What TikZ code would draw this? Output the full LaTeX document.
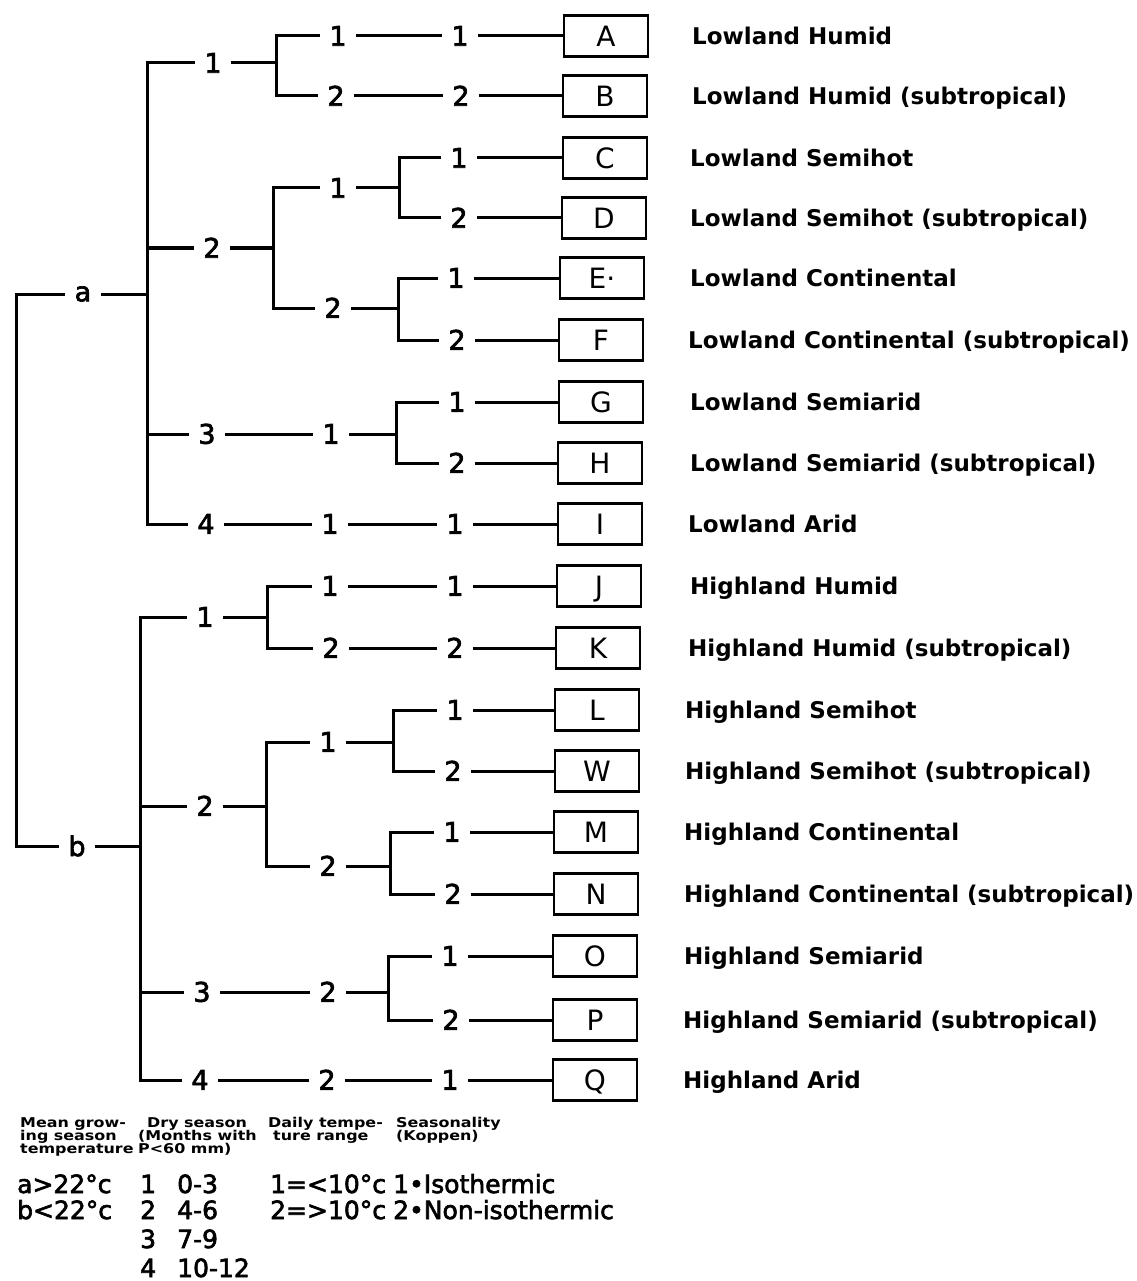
\documentclass[tikz,border=0pt]{standalone}
\usepackage{fontspec}
\setmainfont{DejaVu Sans}
\newfontfamily\hdr{DejaVu Sans}[FakeStretch=1.18]
\newfontfamily\med{DejaVu Sans}[FakeBold=2.5]
\begin{document}
\begin{tikzpicture}[x=1pt,y=-1pt,
  ln/.style={line width=3pt},
  dg/.style={inner sep=0pt, minimum width=36pt, text height=19.5pt, text depth=0pt, font=\med\fontsize{27}{29}\selectfont},
  rt/.style={inner sep=0pt, minimum width=36pt, font=\med\fontsize{27}{29}\selectfont},
  leaf/.style={draw, line width=2.6pt, minimum width=84pt, minimum height=41pt, inner sep=0pt, text height=20.4pt, text depth=0pt, font=\fontsize{28}{30}\selectfont},
  lab/.style={anchor=base west, inner sep=0pt, font=\bfseries\fontsize{23}{25}\selectfont},
  hd/.style={anchor=base west, inner sep=0pt, font=\hdr\bfseries\fontsize{13.5}{13}\selectfont},
  lv/.style={anchor=base west, inner sep=0pt, font=\med\fontsize{25}{27}\selectfont},
]
\useasboundingbox (0,0) rectangle (1136,1281);

% root
\node[rt] (a) at (83,294) {a};
\node[rt] (b) at (77,846) {b};
\coordinate (rv) at (16,0);
\coordinate (av) at (147,0);
\coordinate (bv) at (140,0);

% level 2
\node[dg] (a1) at (213,63) {1};
\node[dg] (a2) at (212,248) {2};
\node[dg] (a3) at (207,434) {3};
\node[dg] (a4) at (206,524) {4};
\node[dg] (b1) at (205,617) {1};
\node[dg] (b2) at (205,806) {2};
\node[dg] (b3) at (202,992) {3};
\node[dg] (b4) at (200,1080) {4};

% level 3
\node[dg] (a11) at (338,36) {1};
\node[dg] (a12) at (336,96) {2};
\node[dg] (a21) at (338,188) {1};
\node[dg] (a22) at (333,308) {2};
\node[dg] (a31) at (331,434) {1};
\node[dg] (a41) at (330,524) {1};
\node[dg] (b11) at (330,586) {1};
\node[dg] (b12) at (331,648) {2};
\node[dg] (b21) at (328,742) {1};
\node[dg] (b22) at (328,866) {2};
\node[dg] (b32) at (328,992) {2};
\node[dg] (b42) at (327,1080) {2};

% level 4
\node[dg] (dA) at (460,36) {1};
\node[dg] (dB) at (461,96) {2};
\node[dg] (dC) at (459,158) {1};
\node[dg] (dD) at (459,218) {2};
\node[dg] (dE) at (456,278) {1};
\node[dg] (dF) at (457,340) {2};
\node[dg] (dG) at (457,402) {1};
\node[dg] (dH) at (457,463) {2};
\node[dg] (dI) at (455,524) {1};
\node[dg] (dJ) at (455,586) {1};
\node[dg] (dK) at (455,648) {2};
\node[dg] (dL) at (455,710) {1};
\node[dg] (dW) at (453,771) {2};
\node[dg] (dM) at (452,832) {1};
\node[dg] (dN) at (453,894) {2};
\node[dg] (dO) at (450,956) {1};
\node[dg] (dP) at (451,1020) {2};
\node[dg] (dQ) at (450,1080) {1};

% leaf boxes
\node[leaf] (xA) at (606,36) {A};
\node[leaf] (xB) at (605,96) {B};
\node[leaf] (xC) at (605,158) {C};
\node[leaf] (xD) at (604,218) {D};
\node[leaf] (xE) at (602,278) {E·};
\node[leaf] (xF) at (601,340) {F};
\node[leaf] (xG) at (601,402) {G};
\node[leaf] (xH) at (600,463) {H};
\node[leaf] (xI) at (600,524) {I};
\node[leaf] (xJ) at (599,586) {J};
\node[leaf] (xK) at (598,648) {K};
\node[leaf] (xL) at (597,710) {L};
\node[leaf] (xW) at (597,771) {W};
\node[leaf] (xM) at (596,832) {M};
\node[leaf] (xN) at (596,894) {N};
\node[leaf] (xO) at (595,956) {O};
\node[leaf] (xP) at (595,1020) {P};
\node[leaf] (xQ) at (595,1080) {Q};

% labels
\node[lab] (lA) at (692,44.4) {Lowland Humid};
\node[lab] (lB) at (692,104.4) {Lowland Humid (subtropical)};
\node[lab] (lC) at (690,166.4) {Lowland Semihot};
\node[lab] (lD) at (690,226.4) {Lowland Semihot (subtropical)};
\node[lab] (lE) at (690,286.4) {Lowland Continental};
\node[lab] (lF) at (688,348.4) {Lowland Continental (subtropical)};
\node[lab] (lG) at (690,410.4) {Lowland Semiarid};
\node[lab] (lH) at (690,471.4) {Lowland Semiarid (subtropical)};
\node[lab] (lI) at (688,532.4) {Lowland Arid};
\node[lab] (lJ) at (690,594.4) {Highland Humid};
\node[lab] (lK) at (688,656.4) {Highland Humid (subtropical)};
\node[lab] (lL) at (685,718.4) {Highland Semihot};
\node[lab] (lW) at (685,779.4) {Highland Semihot (subtropical)};
\node[lab] (lM) at (684,840.4) {Highland Continental};
\node[lab] (lN) at (684,902.4) {Highland Continental (subtropical)};
\node[lab] (lO) at (684,964.4) {Highland Semiarid};
\node[lab] (lP) at (683,1028.4) {Highland Semiarid (subtropical)};
\node[lab] (lQ) at (683,1088.4) {Highland Arid};

% connectors: root
\draw[ln] (a.west) -- (a.west -| rv) -- (b.west -| rv) -- (b.west);
\draw[ln] (a.east) -- (a.east -| av);
\draw[ln] (b.east) -- (b.east -| bv);
\draw[ln] (a1.west) -- (a1.west -| av) -- (a4.west -| av) -- (a4.west);
\draw[ln] (a2.west) -- (a2.west -| av);
\draw[ln] (a3.west) -- (a3.west -| av);
\draw[ln] (b1.west) -- (b1.west -| bv) -- (b4.west -| bv) -- (b4.west);
\draw[ln] (b2.west) -- (b2.west -| bv);
\draw[ln] (b3.west) -- (b3.west -| bv);

% level 2 -> 3
\coordinate (k1) at (276,0);
\draw[ln] (a1.east) -- (a1.east -| k1);
\draw[ln] (a11.west) -- (a11.west -| k1) -- (a12.west -| k1) -- (a12.west);
\coordinate (k2) at (273,0);
\draw[ln] (a2.east) -- (a2.east -| k2);
\draw[ln] (a21.west) -- (a21.west -| k2) -- (a22.west -| k2) -- (a22.west);
\draw[ln] (a3.east) -- (a31.west);
\draw[ln] (a4.east) -- (a41.west);
\coordinate (k3) at (267,0);
\draw[ln] (b1.east) -- (b1.east -| k3);
\draw[ln] (b11.west) -- (b11.west -| k3) -- (b12.west -| k3) -- (b12.west);
\coordinate (k4) at (266,0);
\draw[ln] (b2.east) -- (b2.east -| k4);
\draw[ln] (b21.west) -- (b21.west -| k4) -- (b22.west -| k4) -- (b22.west);
\draw[ln] (b3.east) -- (b32.west);
\draw[ln] (b4.east) -- (b42.west);

% level 3 -> 4
\draw[ln] (a11.east) -- (dA.west);
\draw[ln] (a12.east) -- (dB.west);
\coordinate (m1) at (399,0);
\draw[ln] (a21.east) -- (a21.east -| m1);
\draw[ln] (dC.west) -- (dC.west -| m1) -- (dD.west -| m1) -- (dD.west);
\coordinate (m2) at (398,0);
\draw[ln] (a22.east) -- (a22.east -| m2);
\draw[ln] (dE.west) -- (dE.west -| m2) -- (dF.west -| m2) -- (dF.west);
\coordinate (m3) at (396,0);
\draw[ln] (a31.east) -- (a31.east -| m3);
\draw[ln] (dG.west) -- (dG.west -| m3) -- (dH.west -| m3) -- (dH.west);
\draw[ln] (a41.east) -- (dI.west);
\draw[ln] (b11.east) -- (dJ.west);
\draw[ln] (b12.east) -- (dK.west);
\coordinate (m4) at (393,0);
\draw[ln] (b21.east) -- (b21.east -| m4);
\draw[ln] (dL.west) -- (dL.west -| m4) -- (dW.west -| m4) -- (dW.west);
\coordinate (m5) at (390,0);
\draw[ln] (b22.east) -- (b22.east -| m5);
\draw[ln] (dM.west) -- (dM.west -| m5) -- (dN.west -| m5) -- (dN.west);
\coordinate (m6) at (388,0);
\draw[ln] (b32.east) -- (b32.east -| m6);
\draw[ln] (dO.west) -- (dO.west -| m6) -- (dP.west -| m6) -- (dP.west);
\draw[ln] (b42.east) -- (dQ.west);

% level 4 -> boxes
\foreach \r in {A,B,C,D,E,F,G,H,I,J,K,L,W,M,N,O,P,Q}
  \draw[ln] (d\r.east) -- (x\r.west);

% legend header
\node[hd] (h1a) at (20,1127) {Mean grow-};
\node[hd] (h1b) at (20,1140) {ing season};
\node[hd] (h1c) at (20,1153) {temperature};
\node[hd] (h2a) at (147,1127) {Dry season};
\node[hd] (h2b) at (138,1140) {(Months with};
\node[hd] (h2c) at (138,1153) {P<60 mm)};
\node[hd] (h3a) at (268,1127) {Daily tempe-};
\node[hd] (h3b) at (273,1140) {ture range};
\node[hd] (h4a) at (396,1127) {Seasonality};
\node[hd] (h4b) at (396,1140) {(Koppen)};

% legend values
\node[lv] (v1a) at (17,1193) {a>22°c};
\node[lv] (v1b) at (17,1219) {b<22°c};
\node[lv] (v2a) at (140,1193) {1};
\node[lv] (v2b) at (140,1219) {2};
\node[lv] (v2c) at (140,1248) {3};
\node[lv] (v2d) at (140,1277) {4};
\node[lv] (v3a) at (177,1193) {0-3};
\node[lv] (v3b) at (177,1219) {4-6};
\node[lv] (v3c) at (177,1248) {7-9};
\node[lv] (v3d) at (177,1277) {10-12};
\node[lv] (v4a) at (270,1193) {1=<10°c};
\node[lv] (v4b) at (270,1219) {2=>10°c};
\node[lv] (v5a) at (393,1193) {1•Isothermic};
\node[lv] (v5b) at (393,1219) {2•Non-isothermic};
\end{tikzpicture}
\end{document}
